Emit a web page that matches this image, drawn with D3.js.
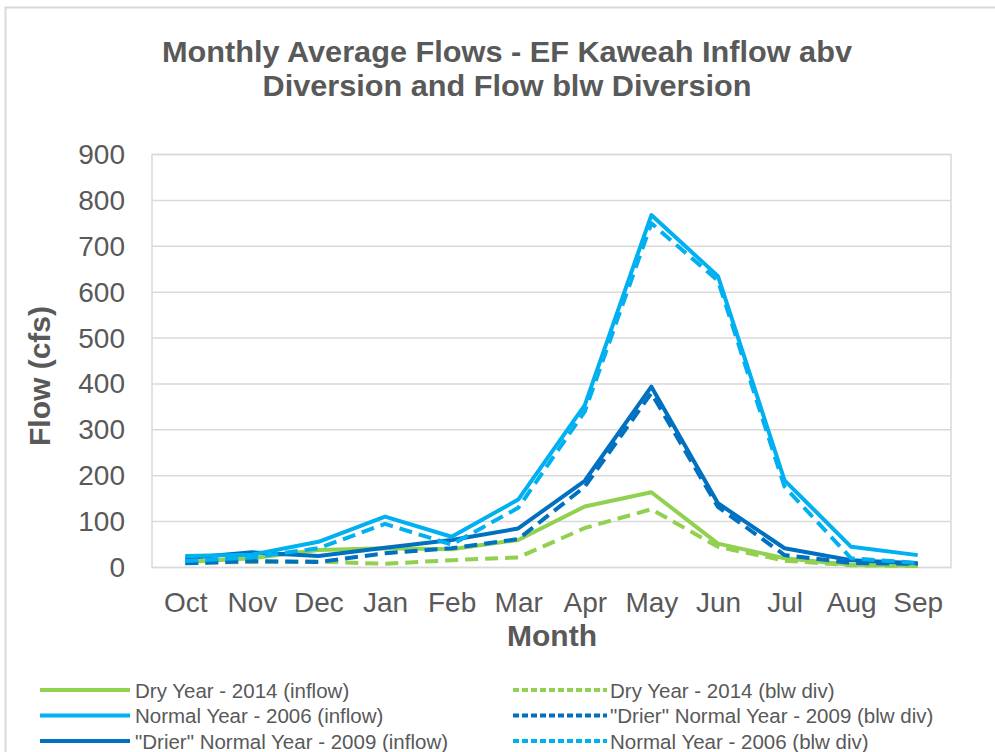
<html>
  <head>
    <script src="https://d3js.org/d3.v7.min.js"></script>
    <style>
      body { margin: 0; background: #fff; }
      text { font-family: "Liberation Sans", Arial, sans-serif; fill: #595959; }
    </style>
  </head>
  <body>
    <svg id="vis"></svg>
  </body>
  <script>
    // data (cfs)
    var months = ["Oct", "Nov", "Dec", "Jan", "Feb", "Mar", "Apr", "May", "Jun", "Jul", "Aug", "Sep"]
    var dryInflow = [12, 20, 38, 42, 40, 60, 133, 164, 52, 20, 6, 4]
    var dryBlw = [10, 12, 13, 8, 16, 22, 86, 127, 45, 15, 5, 3]
    var normalInflow = [25, 28, 56, 111, 67, 148, 354, 768, 635, 190, 45, 27]
    var normalBlw = [14, 22, 42, 95, 50, 130, 340, 750, 625, 176, 20, 10]
    var drierInflow = [20, 33, 25, 43, 60, 85, 189, 394, 140, 42, 16, 9]
    var drierBlw = [9, 14, 12, 31, 42, 62, 176, 380, 132, 27, 10, 8]
    var yTicks = [0, 100, 200, 300, 400, 500, 600, 700, 800, 900]

    var green = "#92D050", light = "#00B0F0", dark = "#0070C0"

    // drawing order in the plot
    var series = [
      {name: "Dry Year - 2014 (inflow)", values: dryInflow, color: green, dash: false},
      {name: "Dry Year - 2014 (blw div)", values: dryBlw, color: green, dash: true},
      {name: "\"Drier\" Normal Year - 2009 (inflow)", values: drierInflow, color: dark, dash: false},
      {name: "\"Drier\" Normal Year - 2009 (blw div)", values: drierBlw, color: dark, dash: true},
      {name: "Normal Year - 2006 (inflow)", values: normalInflow, color: light, dash: false},
      {name: "Normal Year - 2006 (blw div)", values: normalBlw, color: light, dash: true}
    ]
    // legend layout: left column inflow, right column blw div
    var legendLeft = [series[0], series[4], series[2]]
    var legendRight = [series[1], series[3], series[5]]

    var W = 995, H = 752
    var plot = {left: 152, right: 951, top: 154.5, bottom: 567.5}

    var svg = d3.select("#vis").attr("width", W).attr("height", H)

    // chart frame
    svg.append("rect")
      .attr("x", 5.5).attr("y", 7.5)
      .attr("width", 1010).attr("height", 760)
      .attr("fill", "#fff")
      .attr("stroke", "#d9d9d9").attr("stroke-width", 2)

    var x = d3.scalePoint().domain(months).range([plot.left, plot.right]).padding(0.5)
    var y = d3.scaleLinear().domain([0, 900]).range([plot.bottom, plot.top])

    // gridlines
    svg.append("g").selectAll("line").data(yTicks).join("line")
      .attr("x1", plot.left).attr("x2", plot.right)
      .attr("y1", function(d){ return y(d) }).attr("y2", function(d){ return y(d) })
      .attr("stroke", "#d9d9d9").attr("stroke-width", 1.5)

    // plot border
    svg.append("rect")
      .attr("x", plot.left).attr("y", plot.top)
      .attr("width", plot.right - plot.left).attr("height", plot.bottom - plot.top)
      .attr("fill", "none").attr("stroke", "#d9d9d9").attr("stroke-width", 1.5)

    // y axis labels
    var yAxis = svg.append("g")
      .attr("transform", "translate(" + plot.left + ",0)")
      .call(d3.axisLeft(y).tickValues(yTicks).tickSize(0).tickPadding(27))
    yAxis.select(".domain").remove()
    yAxis.selectAll("text")
      .attr("fill", "#595959")
      .style("font-size", "28px")
      .style("font-family", "'Liberation Sans', Arial, sans-serif")

    // x axis labels
    var xAxis = svg.append("g")
      .attr("transform", "translate(0," + plot.bottom + ")")
      .call(d3.axisBottom(x).tickSize(0).tickPadding(25))
    xAxis.select(".domain").remove()
    xAxis.selectAll("text")
      .attr("fill", "#595959")
      .style("font-size", "28px")
      .style("font-family", "'Liberation Sans', Arial, sans-serif")

    // lines
    var line = d3.line()
      .x(function(d, i){ return x(months[i]) })
      .y(function(d){ return y(d) })

    svg.append("g").selectAll("path").data(series).join("path")
      .attr("d", function(d){ return line(d.values) })
      .attr("fill", "none")
      .attr("stroke", function(d){ return d.color })
      .attr("stroke-width", 4)
      .attr("stroke-linejoin", "round")
      .attr("stroke-dasharray", function(d){ return d.dash ? "13,7" : null })

    // titles
    svg.append("text")
      .attr("x", 507).attr("y", 62)
      .attr("text-anchor", "middle")
      .attr("textLength", 690).attr("lengthAdjust", "spacingAndGlyphs")
      .style("font-size", "29px").style("font-weight", "bold")
      .text("Monthly Average Flows - EF Kaweah Inflow abv")
    svg.append("text")
      .attr("x", 507).attr("y", 96)
      .attr("text-anchor", "middle")
      .attr("textLength", 489).attr("lengthAdjust", "spacingAndGlyphs")
      .style("font-size", "29px").style("font-weight", "bold")
      .text("Diversion and Flow blw Diversion")

    svg.append("text")
      .attr("transform", "translate(50,376) rotate(-90)")
      .attr("text-anchor", "middle")
      .style("font-size", "30px").style("font-weight", "bold")
      .text("Flow (cfs)")

    svg.append("text")
      .attr("x", 552).attr("y", 646)
      .attr("text-anchor", "middle")
      .style("font-size", "30px").style("font-weight", "bold")
      .text("Month")

    // legend
    function drawLegend(items, x0, x1, tx) {
      var g = svg.append("g")
      items.forEach(function(d, i) {
        var ly = 690 + i * 25.5
        g.append("line")
          .attr("x1", x0).attr("x2", x1)
          .attr("y1", ly).attr("y2", ly)
          .attr("stroke", d.color).attr("stroke-width", 4)
          .attr("stroke-dasharray", d.dash ? "6,3" : null)
        g.append("text")
          .attr("x", tx).attr("y", ly + 7.5)
          .style("font-size", "20.5px")
          .text(d.name)
      })
    }
    drawLegend(legendLeft, 40, 130, 135)
    drawLegend(legendRight, 513, 607, 610)
  </script>
</html>
